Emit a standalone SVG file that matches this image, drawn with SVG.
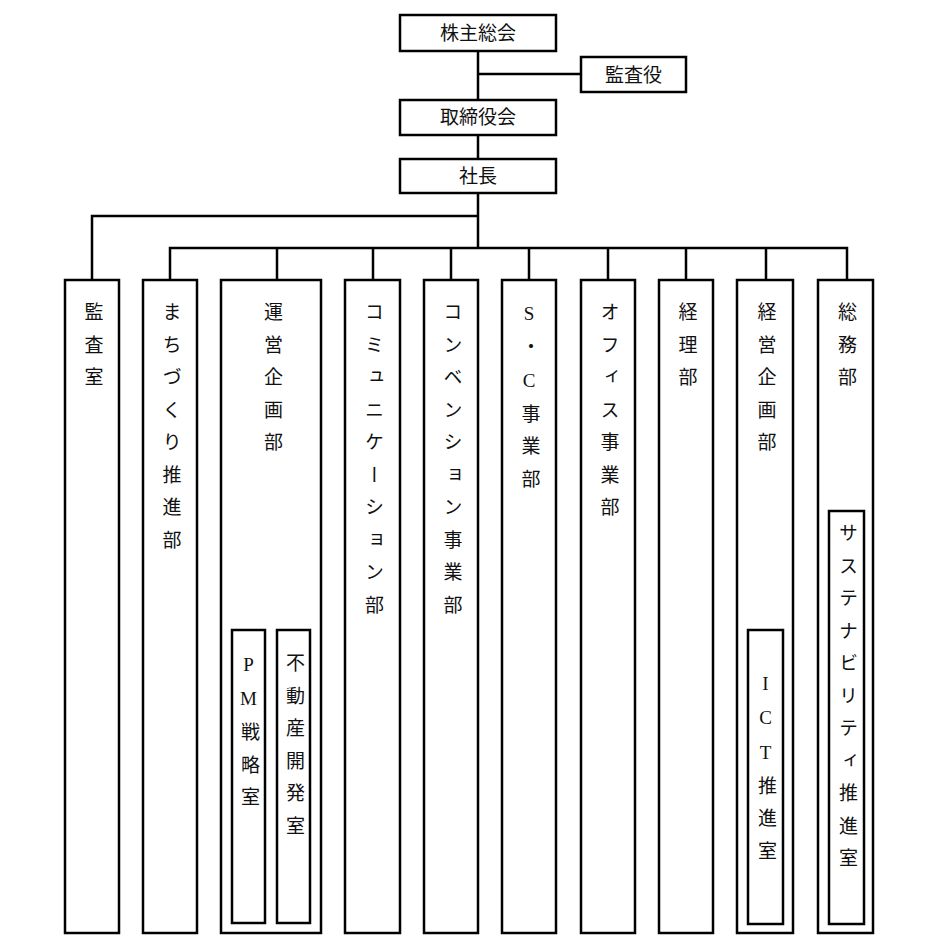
<svg xmlns="http://www.w3.org/2000/svg" width="939" height="942" viewBox="0 0 939 942">
<style>
.box{fill:#fff;stroke:#000;stroke-width:2.5}
.ln{fill:none;stroke:#000;stroke-width:2.5}
.h{font-family:"Liberation Serif","Noto Sans CJK JP",serif;font-size:19px;fill:#111;text-anchor:middle;dominant-baseline:central}
.v{font-family:"Liberation Serif","Noto Sans CJK JP",serif;font-size:19px;fill:#111;writing-mode:vertical-rl;text-orientation:upright;letter-spacing:13.5px}
</style>
<rect width="939" height="942" fill="#fff"/>
<g id="connectors">
<path class="ln" d="M478 51V100M478 74H580M478 135V159M478 193V248M478 216H92V280M170 280V248H847V280M277 248V280M373 248V280M451 248V280M529 248V280M608 248V280M686 248V280M766 248V280"/>
</g>
<g id="n-shareholders"><rect class="box" x="400" y="15" width="156" height="36"/><text class="h" x="478" y="33">株主総会</text></g>
<g id="n-auditor"><rect class="box" x="581" y="57" width="105" height="35"/><text class="h" x="633.5" y="75">監査役</text></g>
<g id="n-board"><rect class="box" x="400" y="100" width="156" height="35"/><text class="h" x="478" y="117.5">取締役会</text></g>
<g id="n-president"><rect class="box" x="400" y="159" width="156" height="34"/><text class="h" x="478" y="176">社長</text></g>
<g id="n-audit-office"><rect class="box" x="65" y="280" width="54" height="653"/><text class="v" x="92" y="302.5">監査室</text></g>
<g id="n-machizukuri"><rect class="box" x="143" y="280" width="54" height="653"/><text class="v" x="170" y="302.5">まちづくり推進部</text></g>
<g id="n-operation"><rect class="box" x="221" y="280" width="100" height="653"/><text class="v" x="271.5" y="302.5">運営企画部</text>
<g id="n-pm"><rect class="box" x="232" y="630" width="33" height="293"/><text class="v" x="248.5" y="653.5">PM戦略室</text></g>
<g id="n-realestate"><rect class="box" x="277" y="630" width="33" height="293"/><text class="v" x="293.5" y="653.5">不動産開発室</text></g>
</g>
<g id="n-communication"><rect class="box" x="345" y="280" width="55" height="653"/><text class="v" x="372.5" y="302.5">コミュニケーション部</text></g>
<g id="n-convention"><rect class="box" x="424" y="280" width="54" height="653"/><text class="v" x="451" y="302.5">コンベンション事業部</text></g>
<g id="n-sc"><rect class="box" x="502" y="280" width="54" height="653"/><text class="v" x="529" y="302.5">S・C事業部</text></g>
<g id="n-office"><rect class="box" x="581" y="280" width="54" height="653"/><text class="v" x="608" y="302.5">オフィス事業部</text></g>
<g id="n-accounting"><rect class="box" x="659" y="280" width="54" height="653"/><text class="v" x="686" y="302.5">経理部</text></g>
<g id="n-planning"><rect class="box" x="737" y="280" width="56" height="653"/><text class="v" x="765" y="302.5">経営企画部</text>
<g id="n-ict"><rect class="box" x="748" y="630" width="35" height="294"/><text class="v" x="765.5" y="672.5">ICT推進室</text></g>
</g>
<g id="n-general"><rect class="box" x="818" y="280" width="55" height="653"/><text class="v" x="845.5" y="302.5">総務部</text>
<g id="n-sustainability"><rect class="box" x="829" y="511" width="35" height="413"/><text class="v" x="846.5" y="523.5">サステナビリティ推進室</text></g>
</g>
</svg>
